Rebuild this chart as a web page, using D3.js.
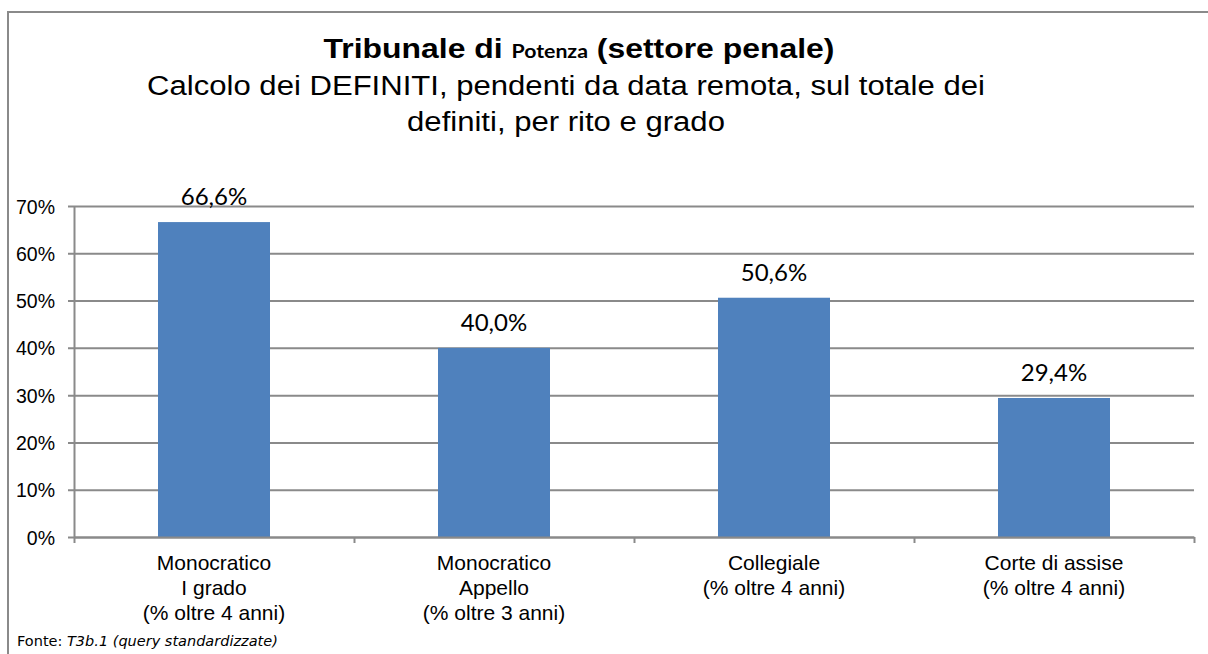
<!DOCTYPE html>
<html><head><meta charset="utf-8">
<script src="https://cdn.jsdelivr.net/npm/d3@7"></script>
<style>
html,body{margin:0;padding:0;background:#fff;}
svg{display:block;}
</style></head>
<body>
<svg id="chart" width="1208" height="654"></svg>
<script>
const categories = [
  ["Monocratico", "I grado", "(% oltre 4 anni)"],
  ["Monocratico", "Appello", "(% oltre 3 anni)"],
  ["Collegiale", "(% oltre 4 anni)"],
  ["Corte di assise", "(% oltre 4 anni)"]
];
const values = [0.666, 0.400, 0.506, 0.294];
const valueLabels = ["66,6%", "40,0%", "50,6%", "29,4%"];
const yTicks = [0, 0.1, 0.2, 0.3, 0.4, 0.5, 0.6, 0.7];
const yTickLabels = ["0%", "10%", "20%", "30%", "40%", "50%", "60%", "70%"];

const svg = d3.select("#chart");
const W = 1208, H = 654;
const plot = {left: 74, right: 1194, top: 206, bottom: 537};
const gridColor = "#8a8a8a";
const arial = "'Liberation Sans', Arial, sans-serif";

// outer border (extends past right/bottom edges)
svg.append("rect").attr("x", 8).attr("y", 12).attr("width", W).attr("height", H)
  .attr("fill", "#fff").attr("stroke", gridColor).attr("stroke-width", 2);

const x = d3.scaleBand().domain(d3.range(categories.length))
  .range([plot.left, plot.right]).paddingInner(0.6).paddingOuter(0.3);
const y = d3.scaleLinear().domain([0, 0.7]).range([plot.bottom, plot.top]);

// gridlines + y axis
const yAxis = d3.axisLeft(y).tickValues(yTicks)
  .tickSize(-(plot.right - plot.left)).tickSizeOuter(0)
  .tickFormat((d, i) => yTickLabels[i]);
const gy = svg.append("g").attr("transform", `translate(${plot.left},0)`).call(yAxis);
gy.select(".domain").attr("stroke", gridColor).attr("stroke-width", 2);
gy.selectAll(".tick line").attr("stroke", gridColor).attr("stroke-width", 2).attr("x1", -6);
gy.selectAll(".tick text").attr("x", -19).attr("dy", "0.36em")
  .attr("font-family", arial).attr("font-size", 19.5).attr("fill", "#000");

// bars
svg.append("g").selectAll("rect").data(values).join("rect")
  .attr("x", (d, i) => x(i)).attr("width", x.bandwidth())
  .attr("y", d => y(d)).attr("height", d => y(0) - y(d))
  .attr("fill", "#4f81bd");

// x axis
const xb = d3.scaleLinear().domain([0, categories.length]).range([plot.left, plot.right]);
const gx = svg.append("g").attr("transform", `translate(0,${plot.bottom})`)
  .call(d3.axisBottom(xb).tickValues(d3.range(categories.length + 1)).tickSize(6).tickSizeOuter(0).tickFormat(""));
gx.select(".domain").attr("stroke", gridColor).attr("stroke-width", 2);
gx.selectAll(".tick line").attr("stroke", gridColor).attr("stroke-width", 2);

// category labels
const cat = svg.append("g").selectAll("text").data(categories).join("text")
  .attr("x", (d, i) => x(i) + x.bandwidth() / 2).attr("y", 570)
  .attr("text-anchor", "middle").attr("font-family", arial).attr("font-size", 21).attr("fill", "#000");
cat.selectAll("tspan").data(d => d).join("tspan")
  .attr("x", function() { return d3.select(this.parentNode).attr("x"); })
  .attr("dy", (d, i) => i === 0 ? 0 : 25).text(d => d);

// value labels
svg.append("g").selectAll("text").data(values).join("text")
  .attr("x", (d, i) => x(i) + x.bandwidth() / 2).attr("y", d => y(d) - 17)
  .attr("text-anchor", "middle").attr("font-family", "Lato, 'Open Sans', sans-serif")
  .attr("font-size", 24).attr("fill", "#000").text((d, i) => valueLabels[i]);

// title (horizontally stretched like the reference)
const tg = svg.append("g").attr("transform", "translate(579,0) scale(1.12,1)");
const t1 = tg.append("text").attr("x", 0).attr("y", 58).attr("text-anchor", "middle")
  .attr("font-family", arial).attr("font-weight", "bold").attr("font-size", 28.5).attr("fill", "#000");
t1.append("tspan").text("Tribunale di ");
t1.append("tspan").attr("font-family", "Lato, 'Open Sans', sans-serif").attr("font-size", 19).text("Potenza");
t1.append("tspan").text(" (settore penale)");

const sub = ["Calcolo dei DEFINITI, pendenti da data remota, sul totale dei", "definiti, per rito e grado"];
svg.append("g").attr("transform", "translate(566,0) scale(1.11,1)")
  .selectAll("text").data(sub).join("text")
  .attr("x", 0).attr("y", (d, i) => 95 + i * 36).attr("text-anchor", "middle")
  .attr("font-family", arial).attr("font-size", 28).attr("fill", "#000").text(d => d);

// source
const src = svg.append("text").attr("x", 17).attr("y", 646)
  .attr("font-family", "'DejaVu Sans', Verdana, sans-serif").attr("font-size", 14.5).attr("fill", "#000");
src.append("tspan").text("Fonte: ");
src.append("tspan").attr("font-style", "italic").text("T3b.1 (query standardizzate)");
</script>
</body></html>
